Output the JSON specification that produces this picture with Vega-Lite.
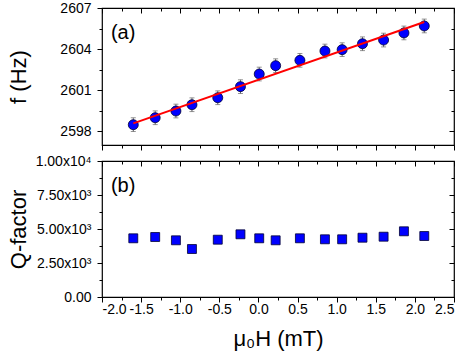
{
  "$schema": "https://vega.github.io/schema/vega-lite/v6.json",
  "padding": {"left": 6, "top": 0, "right": 5, "bottom": 5},
  "config": {
    "font": "Liberation Sans",
    "view": {"stroke": "black", "strokeWidth": 1.2},
    "axis": {
      "labelFont": "Liberation Sans", "titleFont": "Liberation Sans",
      "labelColor": "black", "tickColor": "black", "titleColor": "black",
      "domain": false, "grid": false, "labelFontSize": 14,
      "titleFontWeight": "normal", "titleFontSize": 22, "tickWidth": 1
    }
  },
  "datasets": {
    "top": [
      {"H": -1.6, "f": 2598.48, "lo": 2597.98, "hi": 2598.98},
      {"H": -1.32, "f": 2598.99, "lo": 2598.49, "hi": 2599.49},
      {"H": -1.055, "f": 2599.48, "lo": 2598.98, "hi": 2599.98},
      {"H": -0.85, "f": 2599.94, "lo": 2599.44, "hi": 2600.44},
      {"H": -0.52, "f": 2600.45, "lo": 2599.95, "hi": 2600.95},
      {"H": -0.23, "f": 2601.26, "lo": 2600.76, "hi": 2601.76},
      {"H": 0.01, "f": 2602.18, "lo": 2601.68, "hi": 2602.68},
      {"H": 0.22, "f": 2602.79, "lo": 2602.29, "hi": 2603.29},
      {"H": 0.53, "f": 2603.18, "lo": 2602.68, "hi": 2603.68},
      {"H": 0.85, "f": 2603.86, "lo": 2603.36, "hi": 2604.36},
      {"H": 1.07, "f": 2603.96, "lo": 2603.46, "hi": 2604.46},
      {"H": 1.33, "f": 2604.39, "lo": 2603.89, "hi": 2604.89},
      {"H": 1.6, "f": 2604.66, "lo": 2604.16, "hi": 2605.16},
      {"H": 1.86, "f": 2605.18, "lo": 2604.68, "hi": 2605.68},
      {"H": 2.12, "f": 2605.69, "lo": 2605.19, "hi": 2606.19}
    ],
    "fit": [
      {"H": -1.6, "f": 2598.58},
      {"H": 2.12, "f": 2605.98}
    ],
    "bottom": [
      {"H": -1.6, "Q": 4316, "lo": 4116, "hi": 4516},
      {"H": -1.32, "Q": 4412, "lo": 4212, "hi": 4612},
      {"H": -1.055, "Q": 4169, "lo": 3969, "hi": 4369},
      {"H": -0.85, "Q": 3529, "lo": 3329, "hi": 3729},
      {"H": -0.52, "Q": 4213, "lo": 4013, "hi": 4413},
      {"H": -0.23, "Q": 4610, "lo": 4410, "hi": 4810},
      {"H": 0.01, "Q": 4316, "lo": 4116, "hi": 4516},
      {"H": 0.22, "Q": 4169, "lo": 3969, "hi": 4369},
      {"H": 0.53, "Q": 4316, "lo": 4116, "hi": 4516},
      {"H": 0.85, "Q": 4243, "lo": 4043, "hi": 4443},
      {"H": 1.07, "Q": 4243, "lo": 4043, "hi": 4443},
      {"H": 1.33, "Q": 4360, "lo": 4160, "hi": 4560},
      {"H": 1.6, "Q": 4434, "lo": 4234, "hi": 4634},
      {"H": 1.86, "Q": 4831, "lo": 4631, "hi": 5031},
      {"H": 2.12, "Q": 4485, "lo": 4285, "hi": 4685}
    ],
    "labA": [{"H": -1.73, "f": 2605.2, "t": "(a)"}],
    "labB": [{"H": -1.73, "Q": 8160, "t": "(b)"}]
  },
  "bounds": "flush",
  "spacing": 16,
  "resolve": {"scale": {"x": "independent", "y": "independent"}},
  "vconcat": [
    {
      "width": 352, "height": 137,
      "resolve": {"axis": {"x": "independent", "y": "independent"}},
      "layer": [
        {
          "data": {"name": "top"},
          "mark": {"type": "rule", "color": "#666666", "strokeWidth": 1},
          "encoding": {
            "x": {"field": "H", "type": "quantitative", "scale": {"domain": [-2, 2.5], "nice": false, "zero": false},
              "axis": {"orient": "bottom", "values": [-2, -1.5, -1, -0.5, 0, 0.5, 1, 1.5, 2, 2.5], "labels": false, "tickSize": 5, "title": null}},
            "y": {"field": "lo", "type": "quantitative", "scale": {"domain": [2597, 2607], "nice": false, "zero": false},
              "axis": {"orient": "left", "values": [2598, 2601, 2604, 2607], "format": "d", "tickSize": 5, "labelPadding": 6, "minExtent": 80,
                "title": "f (Hz)", "titleX": -84, "titleY": 68.5, "titleAngle": -90, "titleAlign": "center", "titleBaseline": "middle"}},
            "y2": {"field": "hi"}
          }
        },
        {
          "data": {"name": "top"},
          "mark": {"type": "tick", "orient": "horizontal", "color": "#666666", "size": 5, "thickness": 1},
          "encoding": {
            "x": {"field": "H", "type": "quantitative",
              "axis": {"orient": "bottom", "values": [-1.75, -1.25, -0.75, -0.25, 0.25, 0.75, 1.25, 1.75, 2.25], "labels": false, "tickSize": 3, "title": null}},
            "y": {"field": "hi", "type": "quantitative",
              "axis": {"orient": "left", "values": [2599.5, 2602.5, 2605.5], "labels": false, "tickSize": 3, "title": null}}
          }
        },
        {
          "data": {"name": "top"},
          "mark": {"type": "tick", "orient": "horizontal", "color": "#666666", "size": 5, "thickness": 1},
          "encoding": {
            "x": {"field": "H", "type": "quantitative",
              "axis": {"orient": "top", "values": [-2, -1.5, -1, -0.5, 0, 0.5, 1, 1.5, 2, 2.5], "labels": false, "tickSize": -5, "title": null}},
            "y": {"field": "lo", "type": "quantitative",
              "axis": {"orient": "right", "values": [2598, 2601, 2604, 2607], "labels": false, "tickSize": -5, "title": null}}
          }
        },
        {
          "data": {"name": "top"},
          "mark": {"type": "point", "shape": "circle", "filled": true, "size": 100, "fill": "#0000ff", "stroke": "#000033", "strokeWidth": 0.8, "opacity": 1},
          "encoding": {
            "x": {"field": "H", "type": "quantitative",
              "axis": {"orient": "top", "values": [-1.75, -1.25, -0.75, -0.25, 0.25, 0.75, 1.25, 1.75, 2.25], "labels": false, "tickSize": -3, "title": null}},
            "y": {"field": "f", "type": "quantitative",
              "axis": {"orient": "right", "values": [2599.5, 2602.5, 2605.5], "labels": false, "tickSize": -3, "title": null}}
          }
        },
        {
          "data": {"name": "fit"},
          "mark": {"type": "line", "color": "#ff0000", "strokeWidth": 2},
          "encoding": {
            "x": {"field": "H", "type": "quantitative", "axis": null},
            "y": {"field": "f", "type": "quantitative", "axis": null}
          }
        },
        {
          "data": {"name": "labA"},
          "mark": {"type": "text", "fontSize": 20, "font": "Liberation Sans", "align": "center", "baseline": "middle", "color": "black"},
          "encoding": {
            "x": {"field": "H", "type": "quantitative", "axis": null},
            "y": {"field": "f", "type": "quantitative", "axis": null},
            "text": {"field": "t"}
          }
        }
      ]
    },
    {
      "width": 352, "height": 136,
      "resolve": {"axis": {"x": "independent", "y": "independent"}},
      "layer": [
        {
          "data": {"name": "bottom"},
          "mark": {"type": "rule", "color": "#666666", "strokeWidth": 1},
          "encoding": {
            "x": {"field": "H", "type": "quantitative", "scale": {"domain": [-2, 2.5], "nice": false, "zero": false},
              "axis": {"orient": "bottom", "values": [-2, -1.5, -1, -0.5, 0, 0.5, 1, 1.5, 2, 2.5], "tickSize": 5, "labelPadding": 0,
                "labelExpr": "replace(format(datum.value, '.1f'), '−', '-')",
                "title": "μ₀H (mT)", "titlePadding": 12}},
            "y": {"field": "lo", "type": "quantitative", "scale": {"domain": [0, 10000], "nice": false, "zero": false},
              "axis": {"orient": "left", "values": [0, 2500, 5000, 7500, 10000], "tickSize": 5, "labelPadding": 6, "minExtent": 80,
                "labelExpr": "datum.value == 0 ? '0.00' : (datum.value == 10000 ? '1.00x10⁴' : format(datum.value / 1000, '.2f') + 'x10³')",
                "title": "Q-factor", "titleX": -84, "titleY": 68, "titleAngle": -90, "titleAlign": "center", "titleBaseline": "middle"}},
            "y2": {"field": "hi"}
          }
        },
        {
          "data": {"name": "bottom"},
          "mark": {"type": "tick", "orient": "horizontal", "color": "#666666", "size": 5, "thickness": 1},
          "encoding": {
            "x": {"field": "H", "type": "quantitative",
              "axis": {"orient": "bottom", "values": [-1.75, -1.25, -0.75, -0.25, 0.25, 0.75, 1.25, 1.75, 2.25], "labels": false, "tickSize": 3, "title": null}},
            "y": {"field": "hi", "type": "quantitative",
              "axis": {"orient": "left", "values": [1250, 3750, 6250, 8750], "labels": false, "tickSize": 3, "title": null}}
          }
        },
        {
          "data": {"name": "bottom"},
          "mark": {"type": "tick", "orient": "horizontal", "color": "#666666", "size": 5, "thickness": 1},
          "encoding": {
            "x": {"field": "H", "type": "quantitative",
              "axis": {"orient": "top", "values": [-2, -1.5, -1, -0.5, 0, 0.5, 1, 1.5, 2, 2.5], "labels": false, "tickSize": -5, "title": null}},
            "y": {"field": "lo", "type": "quantitative",
              "axis": {"orient": "right", "values": [0, 2500, 5000, 7500, 10000], "labels": false, "tickSize": -5, "title": null}}
          }
        },
        {
          "data": {"name": "bottom"},
          "mark": {"type": "point", "shape": "square", "filled": true, "size": 80, "fill": "#0000ff", "stroke": "#000033", "strokeWidth": 0.8, "opacity": 1},
          "encoding": {
            "x": {"field": "H", "type": "quantitative",
              "axis": {"orient": "top", "values": [-1.75, -1.25, -0.75, -0.25, 0.25, 0.75, 1.25, 1.75, 2.25], "labels": false, "tickSize": -3, "title": null}},
            "y": {"field": "Q", "type": "quantitative",
              "axis": {"orient": "right", "values": [1250, 3750, 6250, 8750], "labels": false, "tickSize": -3, "title": null}}
          }
        },
        {
          "data": {"name": "labB"},
          "mark": {"type": "text", "fontSize": 20, "font": "Liberation Sans", "align": "center", "baseline": "middle", "color": "black"},
          "encoding": {
            "x": {"field": "H", "type": "quantitative", "axis": null},
            "y": {"field": "Q", "type": "quantitative", "axis": null},
            "text": {"field": "t"}
          }
        }
      ]
    }
  ]
}
